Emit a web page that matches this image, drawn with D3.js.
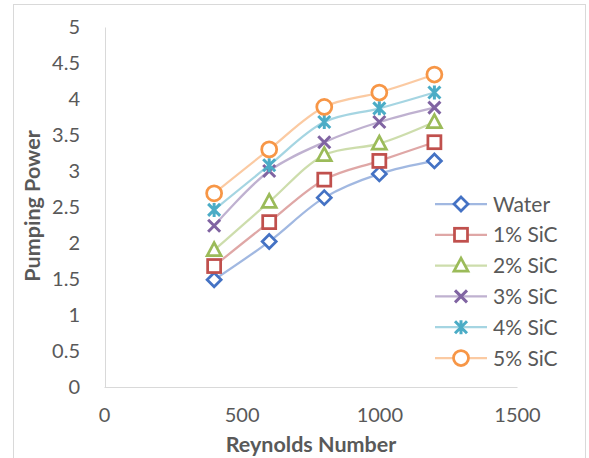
<!DOCTYPE html>
<html><head><meta charset="utf-8">
<script src="https://cdn.jsdelivr.net/npm/d3@7"></script>
<style>body{margin:0;background:#fff;} svg{display:block;}</style>
</head><body>
<svg id="c" width="589" height="458"></svg>
<script>
const reynolds = [400, 600, 800, 1000, 1200];
const seriesNames = ["Water", "1% SiC", "2% SiC", "3% SiC", "4% SiC", "5% SiC"];
const water = [1.49, 2.02, 2.63, 2.96, 3.14];
const sic1 = [1.68, 2.29, 2.88, 3.14, 3.40];
const sic2 = [1.90, 2.57, 3.22, 3.38, 3.68];
const sic3 = [2.24, 3.00, 3.40, 3.68, 3.88];
const sic4 = [2.46, 3.08, 3.68, 3.87, 4.09];
const sic5 = [2.69, 3.30, 3.89, 4.09, 4.34];
const xTicks = [0, 500, 1000, 1500];
const yTicks = [0, 0.5, 1, 1.5, 2, 2.5, 3, 3.5, 4, 4.5, 5];
const colors = ["#4472C4", "#C0504D", "#9BBB59", "#8064A2", "#4BACC6", "#F79646"];
const markers = ["diamond", "square", "triangle", "x", "star", "circle"];
const allValues = [water, sic1, sic2, sic3, sic4, sic5];

const svg = d3.select("#c");
const font = "Lato, 'Open Sans', sans-serif";
svg.append("rect").attr("x", 13.5).attr("y", 4.5).attr("width", 572).attr("height", 470)
  .attr("fill", "#fff").attr("stroke", "#d9d9d9");

const x = d3.scaleLinear().domain([0, 1500]).range([104, 517]);
const y = d3.scaleLinear().domain([0, 5]).range([387, 27]);

// axes
const gx = svg.append("g").attr("transform", "translate(0,387)")
  .call(d3.axisBottom(x).tickValues(xTicks).tickSize(0).tickPadding(21).tickFormat(d3.format("d")));
const gy = svg.append("g").attr("transform", "translate(105,0)")
  .call(d3.axisLeft(y).tickValues(yTicks).tickSize(0).tickPadding(25).tickFormat(d => String(d)));
[gx, gy].forEach(g => {
  g.select(".domain").attr("stroke", "#d9d9d9").attr("stroke-width", 1);
  g.selectAll("text").attr("font-family", font).attr("font-size", 20).attr("fill", "#595959");
});

svg.append("text").attr("x", 311).attr("y", 452).attr("text-anchor", "middle")
  .attr("font-family", font).attr("font-size", 21.5).attr("font-weight", "bold").attr("fill", "#595959")
  .text("Reynolds Number");
svg.append("text").attr("transform", "translate(40,206) rotate(-90)").attr("text-anchor", "middle")
  .attr("font-family", font).attr("font-size", 21.5).attr("font-weight", "bold").attr("fill", "#595959")
  .text("Pumping Power");

function drawMarker(g, type, color) {
  const sw = 2.75;
  if (type === "diamond") {
    g.append("path").attr("d", "M0,-7L7,0L0,7L-7,0Z").attr("fill", "#fff").attr("stroke", color).attr("stroke-width", sw);
  } else if (type === "square") {
    g.append("rect").attr("x", -6.5).attr("y", -6.5).attr("width", 13).attr("height", 13).attr("fill", "#fff").attr("stroke", color).attr("stroke-width", sw);
  } else if (type === "triangle") {
    g.append("path").attr("d", "M0,-7.5L7,5.5L-7,5.5Z").attr("fill", "#fff").attr("stroke", color).attr("stroke-width", sw);
  } else if (type === "x") {
    g.append("path").attr("d", "M-6,-6L6,6M6,-6L-6,6").attr("stroke", color).attr("stroke-width", 3);
  } else if (type === "star") {
    g.append("path").attr("d", "M-6,-6L6,6M6,-6L-6,6M0,-7L0,7").attr("stroke", color).attr("stroke-width", 3);
  } else {
    g.append("circle").attr("r", 7.5).attr("fill", "#fff").attr("stroke", color).attr("stroke-width", sw);
  }
}

const line = d3.line().x(d => x(d[0])).y(d => y(d[1])).curve(d3.curveCatmullRom.alpha(0.5));

allValues.forEach((vals, i) => {
  const pts = reynolds.map((r, j) => [r, vals[j]]);
  svg.append("path").attr("d", line(pts)).attr("fill", "none").attr("stroke", colors[i])
    .attr("stroke-opacity", 0.5).attr("stroke-width", 2.25);
});
allValues.forEach((vals, i) => {
  reynolds.forEach((r, j) => {
    drawMarker(svg.append("g").attr("transform", `translate(${x(r)},${y(vals[j])})`), markers[i], colors[i]);
  });
});

// legend
seriesNames.forEach((name, i) => {
  const ly = 204 + i * 30.8;
  const g = svg.append("g").attr("transform", `translate(0,${ly})`);
  g.append("line").attr("x1", 435).attr("x2", 487).attr("y1", 0).attr("y2", 0)
    .attr("stroke", colors[i]).attr("stroke-opacity", 0.5).attr("stroke-width", 2.25);
  drawMarker(g.append("g").attr("transform", "translate(461,0)"), markers[i], colors[i]);
  g.append("text").attr("x", 493).attr("y", 0).attr("dy", "0.36em")
    .attr("font-family", font).attr("font-size", 21).attr("fill", "#595959").text(name);
});
</script>
</body></html>
